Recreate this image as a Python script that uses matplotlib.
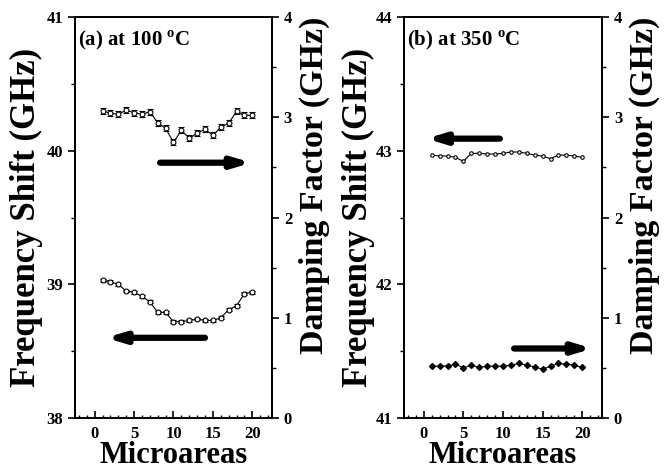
import matplotlib
matplotlib.use("Agg")
import matplotlib.pyplot as plt
import numpy as np
from matplotlib.ticker import MultipleLocator

plt.rcParams['font.family'] = ['Liberation Serif', 'DejaVu Serif']
plt.rcParams['font.weight'] = 'bold'
plt.rcParams['mathtext.fontset'] = 'custom'
plt.rcParams['mathtext.rm'] = 'Liberation Serif'
plt.rcParams['mathtext.bf'] = 'Liberation Serif:bold'

microareas = list(range(1, 21))

# Panel (a) at 100 C
a_freq = [39.03, 39.02, 39.00, 38.95, 38.94, 38.91, 38.87, 38.79, 38.79, 38.72,
          38.72, 38.73, 38.74, 38.73, 38.73, 38.75, 38.81, 38.84, 38.93, 38.94]
a_freq_err = [0.01] * 20
a_damp = [3.065, 3.04, 3.03, 3.07, 3.045, 3.03, 3.055, 2.945, 2.89, 2.75,
          2.87, 2.79, 2.84, 2.88, 2.82, 2.90, 2.94, 3.06, 3.02, 3.02]
a_damp_err = [0.03] * 20

# Panel (b) at 350 C
b_freq = [42.967, 42.96, 42.96, 42.95, 42.92, 42.98, 42.98, 42.975, 42.975, 42.98,
          42.99, 42.99, 42.98, 42.967, 42.96, 42.94, 42.967, 42.967, 42.96, 42.95]
b_freq_err = [0.01] * 20
b_damp = [0.517, 0.517, 0.52, 0.537, 0.50, 0.527, 0.504, 0.517, 0.517, 0.517,
          0.527, 0.544, 0.527, 0.51, 0.487, 0.517, 0.544, 0.537, 0.527, 0.504]
b_damp_err = [0.01] * 20

# arrows: (x_start, x_end, y) in left-axis data coords
a_arrows = [(8.3, 19.9, 39.91), (14.0, 1.4, 38.60)]
b_arrows = [(9.6, 0.3, 43.09), (11.4, 21.3, 41.52)]

fig = plt.figure(figsize=(6.65, 4.7), dpi=100)

def setup(ax, ax2, ylim, label, left_x):
    ax.set_xlim(-2.5, 22.5)
    ax.set_ylim(*ylim)
    ax2.set_ylim(0, 4)
    ax.xaxis.set_major_locator(MultipleLocator(5))
    ax.xaxis.set_minor_locator(MultipleLocator(1))
    ax.yaxis.set_major_locator(MultipleLocator(1))
    ax.yaxis.set_minor_locator(MultipleLocator(0.5))
    ax2.yaxis.set_major_locator(MultipleLocator(1))
    ax2.yaxis.set_minor_locator(MultipleLocator(0.5))
    ax.tick_params(axis='x', which='major', direction='in', length=5, width=1.2,
                   labelsize=12, pad=6, top=False)
    ax.tick_params(axis='x', which='minor', direction='in', length=2.5, width=1, top=False)
    ax.tick_params(axis='y', which='major', direction='out', length=5, width=1.2, labelsize=12)
    ax.tick_params(axis='y', which='minor', direction='out', length=3, width=1)
    ax2.tick_params(axis='y', which='major', direction='out', length=5, width=1.2, labelsize=12)
    ax2.tick_params(axis='y', which='minor', direction='out', length=3, width=1)
    for s in list(ax.spines.values()) + list(ax2.spines.values()):
        s.set_linewidth(1.3)
    ax.set_xlabel('Microareas', fontsize=22, fontweight='bold', labelpad=-1)
    ax.set_ylabel('Frequency Shift (GHz)', fontsize=25, fontweight='bold')
    ax.yaxis.set_label_coords(left_x, 0.5)
    ax2.set_ylabel('Damping Factor (GHz)', fontsize=24.5, fontweight='bold')
    ax2.yaxis.set_label_coords(1.135, 0.58)
    ax.text(0.015, 0.97, label, transform=ax.transAxes, fontsize=15,
            fontweight='bold', va='top', ha='left')

def arrows(ax, arr):
    for x0, x1, y in arr:
        ax.annotate('', xy=(x1, y), xytext=(x0, y),
                    arrowprops=dict(arrowstyle='-|>,head_length=1.0,head_width=0.3',
                                    lw=4.5, color='black', shrinkA=0, shrinkB=0))

# Panel a
axa = fig.add_axes([0.1128, 0.1106, 0.2962, 0.8532])
axa2 = axa.twinx()
setup(axa, axa2, (38, 41), r'(a) at 100 $^{\mathrm{o}}$C', -0.165)
axa.errorbar(microareas, a_freq, yerr=a_freq_err, fmt='-o', color='black', lw=0.8,
             ms=3.5, mfc='white', mec='black', mew=0.8, capsize=2.5, elinewidth=0.8)
axa2.errorbar(microareas, a_damp, yerr=a_damp_err, fmt='-o', color='black', lw=0.8,
              ms=3.5, mfc='white', mec='black', mew=0.8, capsize=2.5, elinewidth=0.8)
arrows(axa, a_arrows)

# Panel b
axb = fig.add_axes([0.6075, 0.1106, 0.2978, 0.8532])
axb2 = axb.twinx()
setup(axb, axb2, (41, 44), r'(b) at 350 $^{\mathrm{o}}$C', -0.146)
axb.errorbar(microareas, b_freq, yerr=b_freq_err, fmt='-o', color='black', lw=0.8,
             ms=2.5, mfc='white', mec='black', mew=0.8, capsize=0, elinewidth=0.8)
axb2.errorbar(microareas, b_damp, yerr=b_damp_err, fmt='-D', color='black', lw=0.8,
              ms=3, mfc='black', mec='black', capsize=0, elinewidth=0.8)
arrows(axb, b_arrows)

fig.savefig('out.png', dpi=100)
